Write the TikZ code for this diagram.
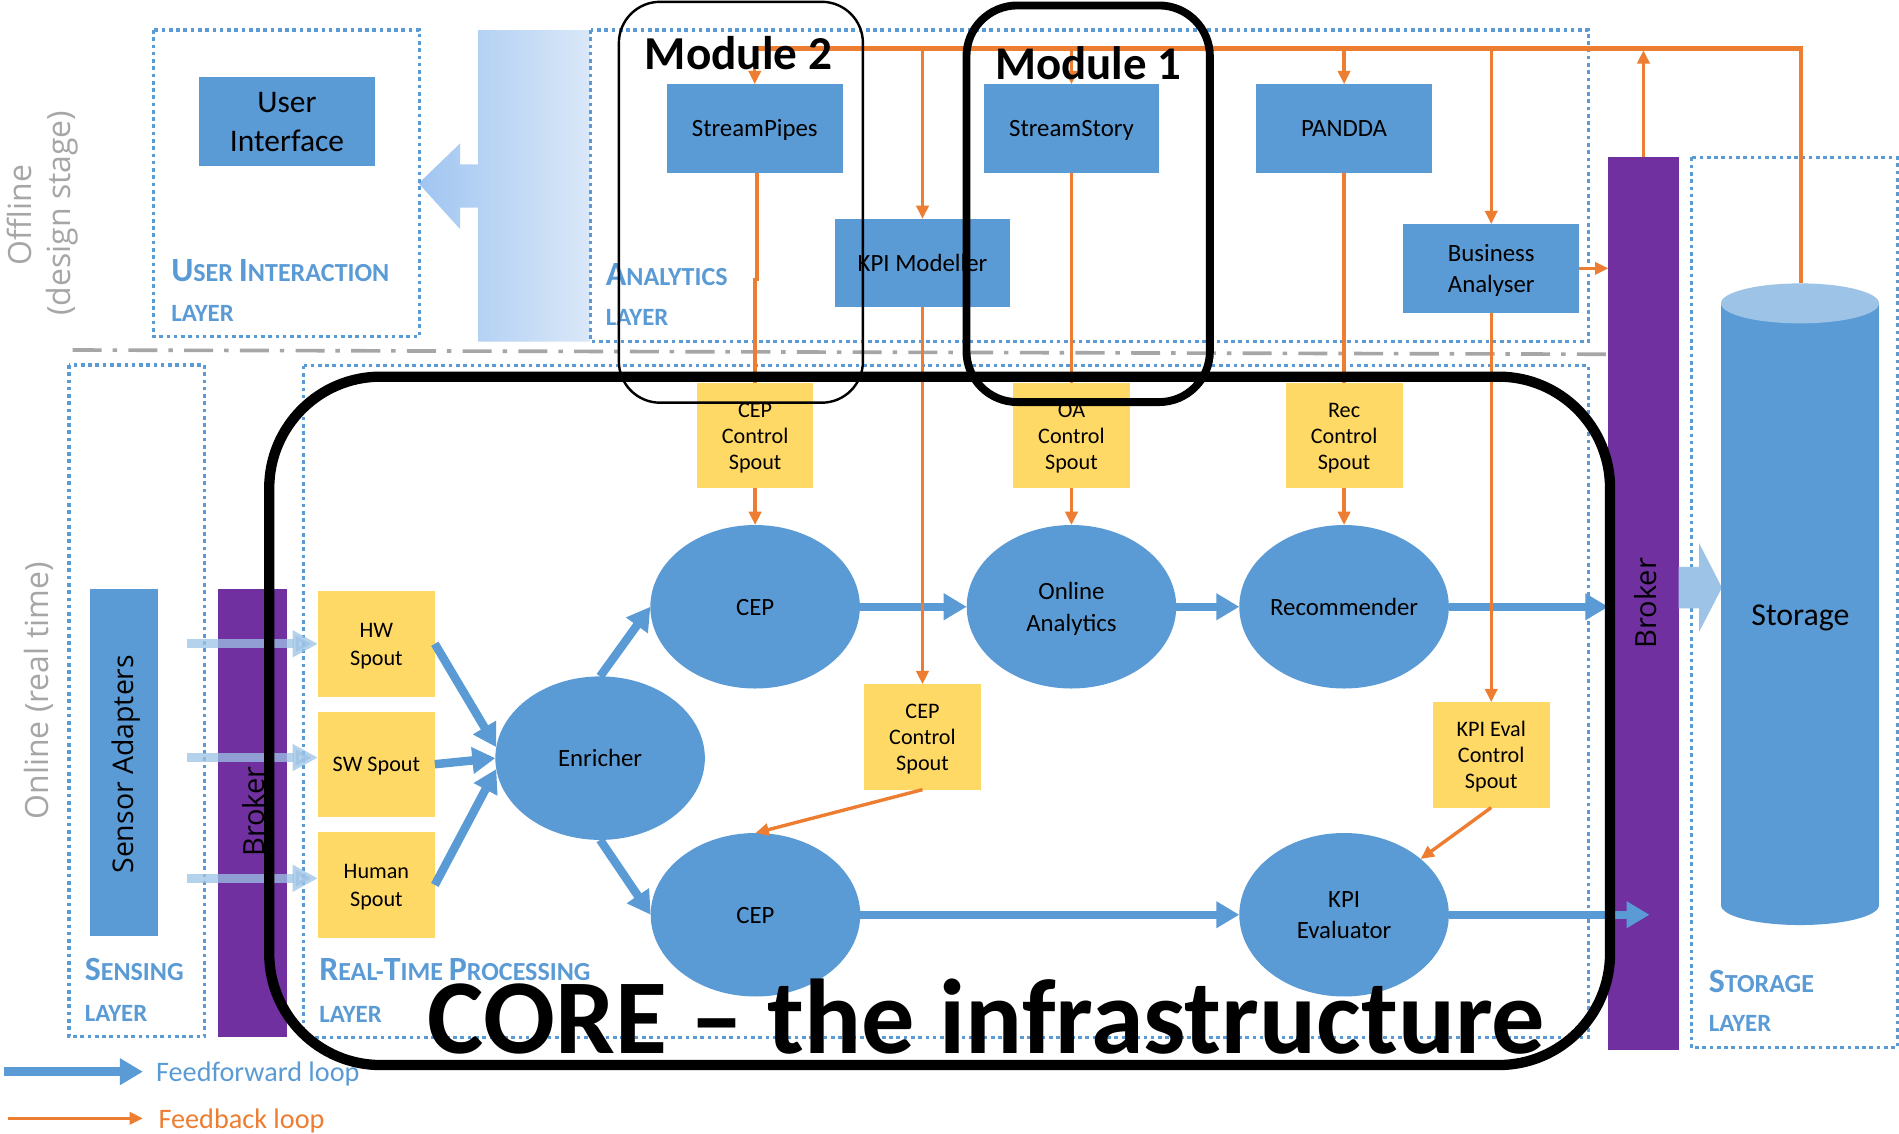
\documentclass[tikz,border=0pt]{standalone}
\usepackage{fontspec}
\setmainfont{Carlito}
\newfontfamily\osans{Open Sans}
\usetikzlibrary{shapes.geometric,arrows.meta}

\definecolor{fillblue}{RGB}{91,155,213}
\definecolor{spoutyellow}{RGB}{255,217,102}
\definecolor{brokerpurple}{RGB}{112,48,160}
\definecolor{fborange}{RGB}{237,125,49}
\definecolor{lightblue}{RGB}{157,195,230}
\definecolor{labelgray}{RGB}{166,166,166}
\definecolor{shadeleft}{RGB}{160,197,241}
\definecolor{shaderight}{RGB}{218,232,248}

% small-caps style layer captions
\newcommand\capL[1]{{\fontsize{28}{28}\selectfont #1}}
\newcommand\scL[1]{{\fontsize{21.5}{21.5}\selectfont #1}}
\newcommand\scM[1]{{\fontsize{20.5}{20.5}\selectfont #1}}
% line strut with the ascent and descent of the text face
\newcommand\ls{\rule[-0.269em]{0pt}{1.221em}}

\begin{document}
\begin{tikzpicture}[x=1pt,y=-1pt,
  every node/.style={inner sep=0pt,outer sep=0pt},
  layerframe/.style={draw=fillblue,line width=2.8pt,dash pattern=on 3pt off 3pt},
  anabox/.style={fill=fillblue,minimum width=145pt,minimum height=73pt,align=center,font=\fontsize{20.5}{24.8}\selectfont},
  spoutbox/.style={fill=spoutyellow,minimum width=96.5pt,minimum height=87pt,align=center,font=\fontsize{18.3}{21.7}\selectfont},
  procnode/.style={ellipse,fill=fillblue,minimum width=173pt,minimum height=135pt,align=center,font=\fontsize{20.5}{24.8}\selectfont},
  brokerbar/.style={fill=brokerpurple},
  ffarrow/.style={draw=fillblue,line width=7pt,-{Triangle[length=19pt,width=21pt]}},
  ffin/.style={draw=lightblue,opacity=0.75,line width=7.4pt,-{Triangle[length=21pt,width=21pt]}},
  fbarrow/.style={draw=fborange,line width=2.8pt,-{Triangle[length=11pt,width=10pt]}},
  fbline/.style={draw=fborange,line width=2.8pt},
  laylabel/.style={anchor=base west,text=fillblue,font=\bfseries},
  vlabel/.style={rotate=90,anchor=base,font=\osans\fontsize{26.4}{26.4}\selectfont,text=labelgray},
  barlabel/.style={rotate=90,anchor=base,font=\osans\fontsize{24}{24}\selectfont},
]
\useasboundingbox (0,0) rectangle (1568,936);
\fill[white] (0,0) rectangle (1568,936);

% wide shaded arrow from the analytics layer to the user interaction layer
\shade[left color=shadeleft,right color=shaderight]
  (394.7,24.8) -- (487,24.8) -- (487,282) -- (394.7,282) -- (394.7,171.5)
  -- (380,171.5) -- (380,189.3) -- (345.7,151.4) -- (380,118.3)
  -- (380,135.7) -- (394.7,135.7) -- cycle;

% layer frames
\draw[layerframe] (126.7,24.8) rectangle (346.4,278);
\draw[layerframe] (487.8,24.8) rectangle (1311.7,282);
\draw[layerframe] (57,301.4) rectangle (168.8,856);
\draw[layerframe] (250.7,302) rectangle (1311.6,856.5);
\draw[layerframe] (1396.6,130) rectangle (1566.5,865);

% offline / online divider
\draw[labelgray,line width=3pt,dash pattern=on 24pt off 9pt on 3.7pt off 9.3pt] (60,289) -- (1328,292.5);

% offline analytics components
\node[anabox,minimum width=145.5pt,font=\fontsize{26}{32.5}\selectfont] (ui) at (237,100.2) {\ls User\\Interface\ls};
\node[anabox] (sp) at (623.2,106) {\ls StreamPipes\ls};
\node[anabox] (ss) at (884.7,106) {\ls StreamStory\ls};
\node[anabox] (pan) at (1109.8,106) {\ls PANDDA\ls};
\node[anabox] (km) at (761.7,217.3) {\ls KPI Modeller\ls};
\node[anabox] (ba) at (1231.3,221.6) {\ls Business\\Analyser\ls};

% sensing side and brokers
\node[fill=fillblue,minimum width=56pt,minimum height=286.3pt] (sa) at (102.5,629.5) {};
\node[barlabel,font=\osans\fontsize{23.5}{23.5}\selectfont] (saL) at (110,631) {Sensor Adapters};
\node[brokerbar,minimum width=56.6pt,minimum height=370.2pt] (brL) at (208.3,671.4) {};
\node[barlabel] (brLl) at (218.5,670) {Broker};
\node[brokerbar,minimum width=58pt,minimum height=737.6pt] (brR) at (1357,498.2) {};
\node[barlabel] (brRl) at (1368,498) {Broker};

% spouts
\node[spoutbox] (hw) at (310.8,531.6) {\ls HW\\Spout\ls};
\node[spoutbox] (sw) at (310.8,631) {\ls SW Spout\ls};
\node[spoutbox] (hum) at (310.8,730.7) {\ls Human\\Spout\ls};
\node[spoutbox,minimum width=96pt] (cepc1) at (623.5,359.8) {\ls CEP\\Control\\Spout\ls};
\node[spoutbox] (oac) at (884.7,359.8) {\ls OA\\Control\\Spout\ls};
\node[spoutbox] (recc) at (1109.8,359.8) {\ls Rec\\Control\\Spout\ls};
\node[spoutbox,minimum width=96pt] (cepc2) at (761.7,608.5) {\ls CEP\\Control\\Spout\ls};
\node[spoutbox] (kpic) at (1231.3,623.3) {\ls KPI Eval\\Control\\Spout\ls};

% real-time operators
\node[procnode] (cep1) at (623.5,501) {\ls CEP\ls};
\node[procnode] (oa) at (884.7,501) {\ls Online\\Analytics\ls};
\node[procnode] (rec) at (1109.8,501) {\ls Recommender\ls};
\node[procnode] (enr) at (495.5,626) {\ls Enricher\ls};
\node[procnode] (cep2) at (623.8,755.3) {\ls CEP\ls};
\node[procnode] (kpi) at (1109.8,755.3) {\ls KPI\\Evaluator\ls};

% feedforward flow
\draw[ffarrow] (hw.east) -- (enr.174);
\draw[ffarrow] (sw.east) -- (enr.west);
\draw[ffarrow] (hum.east) -- (enr.186);
\draw[ffarrow] (enr.north) -- (cep1.west);
\draw[ffarrow] (enr.south) -- (cep2.west);
\draw[ffarrow] (cep1.east) -- (oa.west);
\draw[ffarrow] (oa.east) -- (rec.west);
\draw[ffarrow] (rec.east) -- (rec.east -| brR.west);
\draw[ffarrow] (cep2.east) -- (kpi.west);
\coordinate (kpiout) at (1362,755.3);
\draw[ffarrow] (kpi.east) -- (kpiout);

% sensor data entering the spouts
\coordinate (inHW) at (154.8,531.6);
\coordinate (inSW) at (154.8,625.5);
\coordinate (inHU) at (154.8,725.2);
\draw[ffin] (inHW) -- (hw.west);
\draw[ffin] (inSW) -- (inSW -| sw.west);
\draw[ffin] (inHU) -- (inHU -| hum.west);

% broker to storage
\fill[lightblue] (1386,468) -- (1403,468) -- (1403,448.6) -- (1421.8,485.2)
  -- (1403,521.6) -- (1403,502.3) -- (1386,502.3) -- cycle;

% storage cylinder
\fill[fillblue] (1421,250.5) rectangle (1551.5,747.3);
\fill[fillblue] (1486.25,747.3) ellipse [x radius=65.25pt,y radius=16.5pt];

% feedback bus
\coordinate (busy) at (0,40);
\coordinate (stortop) at (1487,234);
\draw[fborange,line width=3.5pt] (sp.north |- busy) -- (stortop |- busy) -- (stortop);
\fill[lightblue] (1486.25,250.5) ellipse [x radius=65.25pt,y radius=16.5pt];
\node[anchor=base,font=\fontsize{26.3}{26.3}\selectfont] (stor) at (1486.6,516.6) {Storage};

\draw[fbarrow] (sp.north |- busy) -- (sp.north);
\draw[fbarrow] (km.north |- busy) -- (km.north);
\draw[fbarrow] (ss.north |- busy) -- (ss.north);
\draw[fbarrow] (pan.north |- busy) -- (pan.north);
\draw[fbarrow] (ba.north |- busy) -- (ba.north);
\draw[fbarrow,shorten >=1.5pt] (brR.north) -- (brR.north |- busy);

% analytics components feeding the control spouts
\coordinate (jog) at (0,231);
\draw[fbline] ([xshift=2pt]sp.south) -- ([xshift=2pt]sp.south |- jog) -- (cepc1.north |- jog) -- (cepc1.north);
\draw[fbline] (ss.south) -- (oac.north);
\draw[fbline] (pan.south) -- (recc.north);
\draw[fbarrow] (km.south) -- (cepc2.north);
\draw[fbarrow] (ba.south) -- (kpic.north);
\draw[fbarrow] (ba.east) -- (ba.east -| brR.west);

% control spouts to operators
\draw[fbarrow] (cepc1.south) -- (cep1.north);
\draw[fbarrow] (oac.south) -- (oa.north);
\draw[fbarrow] (recc.south) -- (rec.north);
\draw[fbarrow] (cepc2.south) -- (cep2.north);
\draw[fbarrow] (kpic.south) -- (kpi);

% layer captions
\node[laylabel] (uiL1) at (141.4,232.6) {\capL{U}\scL{SER }\capL{I}\scL{NTERACTION}};
\node[laylabel] (uiL2) at (141.4,265.6) {\scM{LAYER}};
\node[laylabel] (anL1) at (500.3,236) {\capL{A}\scL{NALYTICS}};
\node[laylabel] (anL2) at (500.3,268.4) {\scM{LAYER}};
\node[laylabel] (seL1) at (70,810) {\capL{S}\scL{ENSING}};
\node[laylabel] (seL2) at (70,843.6) {\scM{LAYER}};
\node[laylabel] (rtL1) at (263.6,809.5) {\capL{R}\scL{EAL-}\capL{T}\scL{IME }\capL{P}\scL{ROCESSING}};
\node[laylabel] (rtL2) at (263.6,844.4) {\scM{LAYER}};
\node[laylabel] (stL1) at (1410.9,819.6) {\capL{S}\scL{TORAGE}};
\node[laylabel] (stL2) at (1410.9,851.8) {\scM{LAYER}};

% stage captions
\node[vlabel] (offA) at (25.7,177.5) {Offline};
\node[vlabel] (offB) at (58,176) {(design stage)};
\node[vlabel] (onl) at (40,570.5) {Online (real time)};

% legend
\coordinate (lgA1) at (3.7,884.9);
\coordinate (lgA2) at (118,884.9);
\draw[ffarrow,line width=7.7pt] (lgA1) -- (lgA2);
\node[anchor=base west,text=fillblue,font=\fontsize{23.3}{23.3}\selectfont] (lgT1) at (128.9,893) {Feedforward loop};
\coordinate (lgB1) at (6.6,923.4);
\coordinate (lgB2) at (118,923.4);
\draw[fbarrow] (lgB1) -- (lgB2);
\node[anchor=base west,text=fborange,font=\fontsize{23.3}{23.3}\selectfont] (lgT2) at (130.9,931.4) {Feedback loop};

% module and core frames
\draw[line width=2pt,rounded corners=34pt] (511,1.5) rectangle (712.5,332.5);
\draw[line width=6.5pt,rounded corners=42pt] (798,4.5) rectangle (999,332);
\draw[line width=8.5pt,rounded corners=92pt] (222.3,311) rectangle (1329.4,879.4);

\node[anchor=base,font=\bfseries\fontsize{39}{39}\selectfont] (m2) at (609.8,57.3) {Module 2};
\node[anchor=base,font=\bfseries\fontsize{38.7}{38.7}\selectfont] (m1) at (898.7,66) {Module 1};
\node[anchor=base,font=\bfseries\fontsize{87.8}{87.8}\selectfont] (core) at (814.5,869.7) {CORE – the infrastructure};
\end{tikzpicture}
\end{document}
